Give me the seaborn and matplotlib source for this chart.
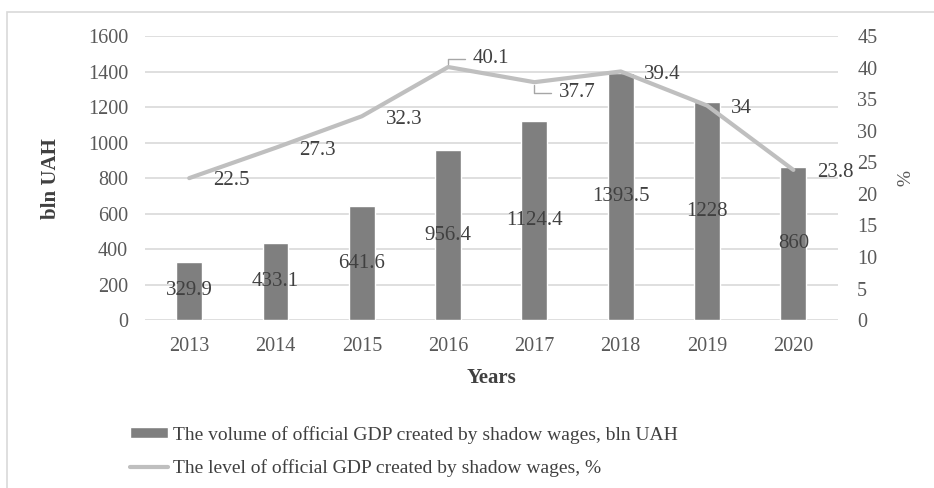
import pandas as pd
import matplotlib
matplotlib.use("Agg")
import matplotlib.pyplot as plt
import seaborn as sns
from matplotlib.patches import Rectangle

years = ["2013", "2014", "2015", "2016", "2017", "2018", "2019", "2020"]
volume = [329.9, 433.1, 641.6, 956.4, 1124.4, 1393.5, 1228, 860]
level = [22.5, 27.3, 32.3, 40.1, 37.7, 39.4, 34, 23.8]
volume_labels = ["329.9", "433.1", "641.6", "956.4", "1124.4", "1393.5", "1228", "860"]
level_labels = ["22.5", "27.3", "32.3", "40.1", "37.7", "39.4", "34", "23.8"]

bar_name = "The volume of official GDP created by shadow wages, bln UAH"
line_name = "The level of official GDP created by shadow wages, %"

sns.set_theme(style="white")
plt.rcParams['font.family'] = ['Liberation Serif', 'DejaVu Serif']

df = pd.DataFrame({"year": years, "volume": volume, "level": level})

fig = plt.figure(figsize=(9.34, 4.88), dpi=100)
ax = fig.add_axes([0.155, 0.344, 0.742, 0.582])

sns.barplot(data=df, x="year", y="volume", color="#7f7f7f", saturation=1,
            width=0.30, ax=ax, label=bar_name, zorder=2)
ax.set_ylim(0, 1600)
ax.set_yticks(range(0, 1601, 200))
ax.grid(axis="y", color="#d9d9d9", linewidth=1.2, zorder=0)
ax.set_axisbelow(True)
for s in ax.spines.values():
    s.set_visible(False)
ax.tick_params(axis="y", length=0, labelsize=14.5, labelcolor="#595959", pad=12)
ax.tick_params(axis="x", length=0, labelsize=14.5, labelcolor="#595959", pad=12)
ax.set_xlabel("Years", fontsize=15, fontweight="bold", color="#404040", labelpad=9)
ax.set_ylabel("bln UAH", fontsize=15, fontweight="bold", color="#404040", labelpad=19)

for i, (v, t) in enumerate(zip(volume, volume_labels)):
    ax.text(i, v / 2, t, ha="center", va="center", fontsize=15, color="#404040", zorder=5)

ax2 = ax.twinx()
sns.lineplot(data=df, x="year", y="level", color="#bfbfbf", linewidth=3,
             ax=ax2, label=line_name, legend=False, zorder=3)
ax2.set_ylim(0, 45)
ax2.set_yticks(range(0, 46, 5))
for s in ax2.spines.values():
    s.set_visible(False)
ax2.tick_params(axis="y", length=0, labelsize=14.5, labelcolor="#595959", pad=14)
ax2.set_ylabel("%", fontsize=14, color="#595959", rotation=270, labelpad=22)
ax2.set_xlim(ax.get_xlim())

leader = dict(arrowstyle="-", color="#a6a6a6", lw=1, shrinkA=3, shrinkB=2,
              connectionstyle="angle,angleA=0,angleB=90,rad=0")
for i, (v, t) in enumerate(zip(level, level_labels)):
    if t == "40.1":
        ax2.annotate(t, xy=(i, v), xytext=(i + 0.28, v + 1.3), ha="left", va="center",
                     fontsize=15, color="#404040", arrowprops=leader)
    elif t == "37.7":
        ax2.annotate(t, xy=(i, v), xytext=(i + 0.28, v - 1.7), ha="left", va="center",
                     fontsize=15, color="#404040", arrowprops=leader)
    else:
        ax2.annotate(t, xy=(i, v), xytext=(17, -2), textcoords="offset points",
                     ha="left", va="center", fontsize=15, color="#404040")

h1, l1 = ax.get_legend_handles_labels()
h2, l2 = ax2.get_legend_handles_labels()
if ax.get_legend() is not None:
    ax.get_legend().remove()
if ax2.get_legend() is not None:
    ax2.get_legend().remove()
leg = fig.legend(h1 + h2, l1 + l2, loc="upper left", bbox_to_anchor=(0.120, 0.163),
                 frameon=False, fontsize=14, handlelength=2.0, handleheight=0.5,
                 labelspacing=0.8, handletextpad=0.25)
for t in leg.get_texts():
    t.set_color("#404040")

fig.patches.append(Rectangle((0.008, -0.02), 1.1, 0.995, transform=fig.transFigure,
                             fill=False, edgecolor="#d9d9d9", linewidth=1.2))

fig.savefig("out.png", dpi=100)
